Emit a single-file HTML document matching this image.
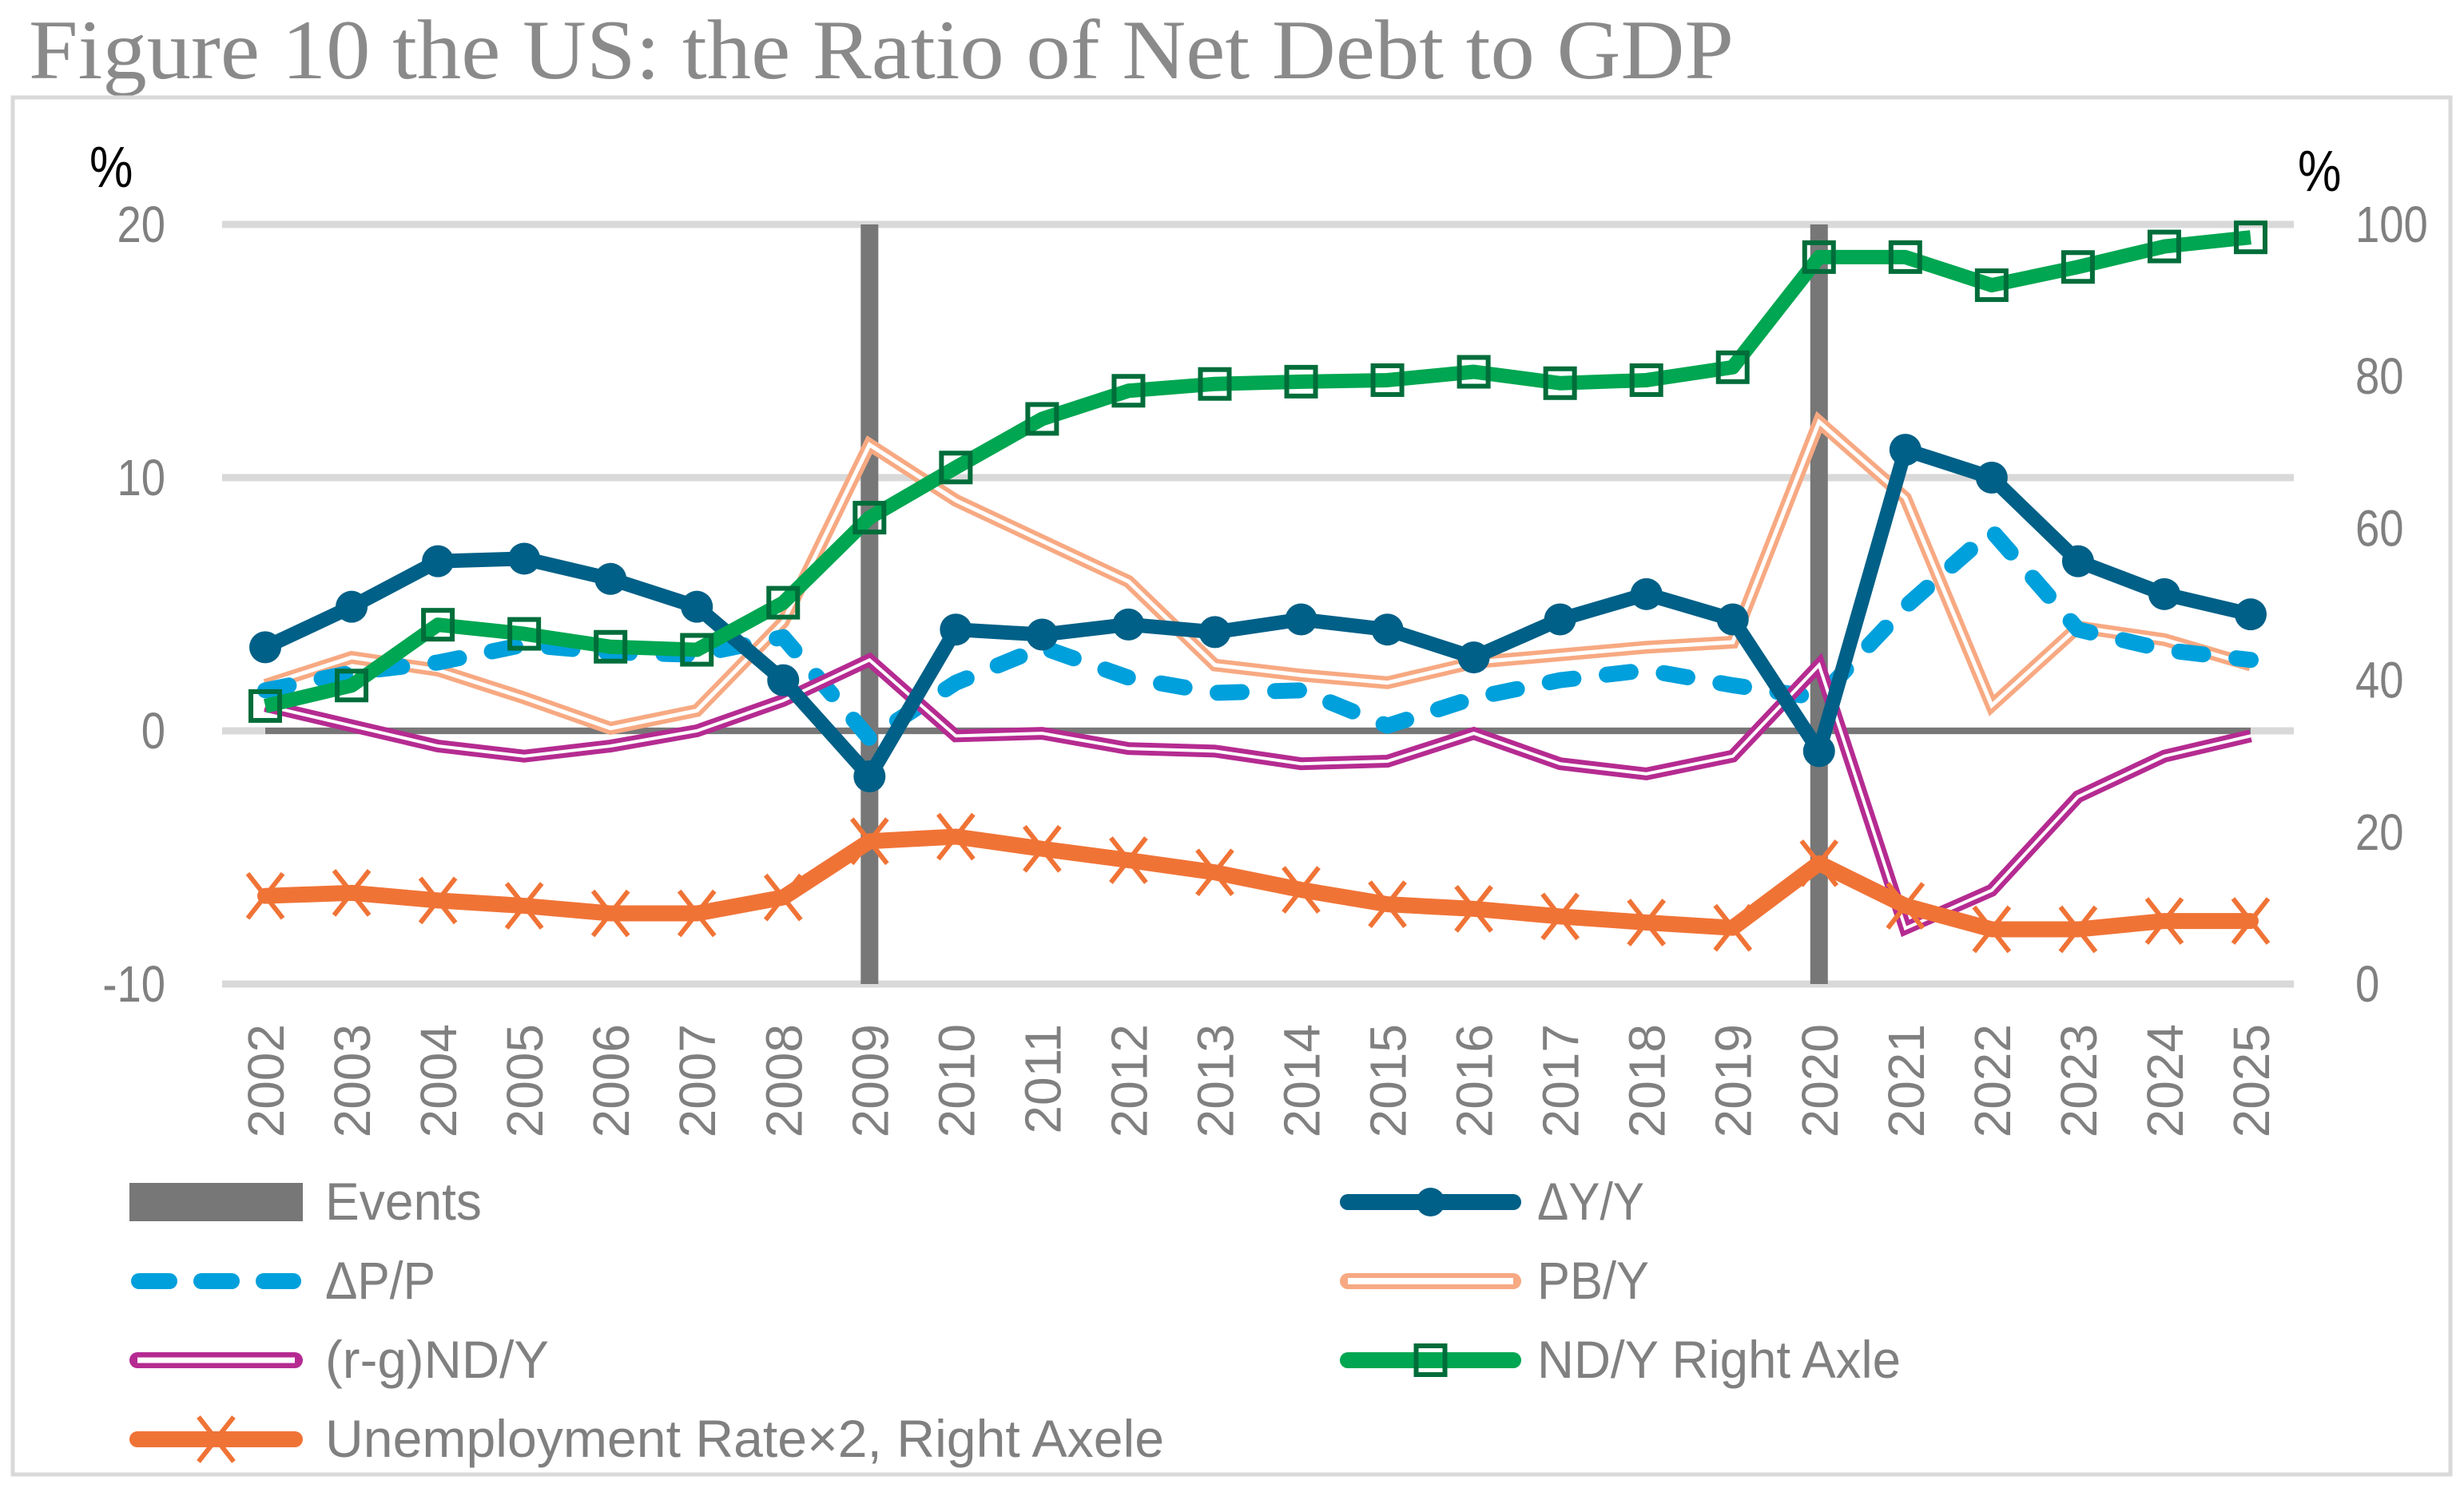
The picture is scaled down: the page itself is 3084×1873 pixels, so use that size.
<!DOCTYPE html>
<html><head><meta charset="utf-8"><style>
html,body{margin:0;padding:0;background:#fff;}
svg{display:block;}
text{font-family:"Liberation Sans",sans-serif;}
</style></head><body>
<svg id="chart" width="3084" height="1873" viewBox="0 0 3084 1873" xmlns="http://www.w3.org/2000/svg">
<rect x="0" y="0" width="3084" height="1873" fill="#fff"/>
<text x="36" y="98" style="font-family:'Liberation Serif',serif" font-size="106" fill="#8a8a8a" textLength="2134" lengthAdjust="spacingAndGlyphs">Figure 10 the US: the Ratio of Net Debt to GDP</text>
<rect x="16" y="122" width="3051" height="1724" fill="none" stroke="#d9d9d9" stroke-width="5"/>
<g id="grid"></g>
<g id="events"></g>
<g id="series"></g>
<g id="axes"></g>
<g id="legend"></g>
</svg>
<script>
const years = ["2002","2003","2004","2005","2006","2007","2008","2009","2010","2011","2012","2013","2014","2015","2016","2017","2018","2019","2020","2021","2022","2023","2024","2025"];
const eventYears = ["2009","2020"];
const dYY = [3.3,4.9,6.7,6.8,6.0,4.9,2.0,-1.8,4.0,3.8,4.2,3.9,4.4,4.0,2.9,4.4,5.4,4.4,-0.8,11.1,10.0,6.7,5.4,4.6];
const dPP = [1.6,2.3,2.7,3.4,3.1,3.0,3.7,-0.3,1.9,3.3,2.1,1.5,1.6,0.2,1.3,2.0,2.4,1.8,1.3,4.9,7.9,4.0,3.2,2.8];
const pbY = [1.8,2.9,2.4,1.3,0.1,0.8,4.3,11.3,9.1,7.5,5.9,2.6,2.2,1.9,2.7,3.0,3.3,3.5,12.2,9.2,1.0,4.1,3.6,2.6];
const rgND = [1.0,0.2,-0.6,-1.0,-0.6,0.0,1.2,2.8,-0.2,-0.1,-0.7,-0.8,-1.3,-1.2,-0.1,-1.3,-1.7,-1.0,2.6,-7.8,-6.3,-2.6,-1.0,-0.2];
const ndY = [36.6,39.3,47.3,46.1,44.4,44.0,50.2,61.4,68.0,74.4,78.1,79.0,79.3,79.5,80.6,79.1,79.5,81.2,95.7,95.7,92.0,94.4,97.1,98.3];
const unemp2 = [11.6,12.0,11.0,10.3,9.3,9.3,11.4,18.8,19.4,17.8,16.3,14.7,12.4,10.5,9.9,8.9,8.1,7.4,15.9,10.3,7.2,7.2,8.3,8.3];
const leftTicks = [-10,0,10,20];
const rightTicks = [0,20,40,60,80,100];

const NS="http://www.w3.org/2000/svg";
const PL=278, PR=2871, PT=281, PB=1232;
const bw=(PR-PL)/years.length;
function xOf(i){return PL+bw*(i+0.5);}
function yL(v){return PB-(v-(-10))/30*(PB-PT);}
function yR(v){return PB-v/100*(PB-PT);}
function mk(tag,attrs,parent){const e=document.createElementNS(NS,tag);for(const k in attrs)e.setAttribute(k,attrs[k]);parent.appendChild(e);return e;}
const grid=document.getElementById('grid'),events=document.getElementById('events'),series=document.getElementById('series'),axes=document.getElementById('axes'),legend=document.getElementById('legend');

leftTicks.forEach(t=>{
  const l=mk('line',{x1:PL,x2:PR,y1:yL(t),y2:yL(t),stroke:'#d9d9d9','stroke-width':9},grid);
  
  
  const tx=mk('text',{x:207,y:yL(t)+22,'text-anchor':'end','font-size':64,fill:'#808080',transform:`translate(207 0) scale(0.85 1) translate(-207 0)`},axes);
  tx.textContent=t;
  
  
});
rightTicks.forEach(t=>{
  const tx=mk('text',{x:2948,y:yR(t)+22,'font-size':64,fill:'#808080',transform:`translate(2948 0) scale(0.85 1) translate(-2948 0)`},axes);
  tx.textContent=t;
  
  
});
years.forEach((y,i)=>{
  const x=xOf(i);
  const tx=mk('text',{x:0,y:0,'font-size':64,fill:'#808080','text-anchor':'end',transform:`translate(${x+23} 1282) rotate(-90)`},axes);
  tx.textContent=y;
  
  
});
let p1=mk('text',{x:112,y:234,'font-size':72,fill:'#000',transform:'translate(112 0) scale(0.85 1) translate(-112 0)'},axes);p1.textContent='%';


let p2=mk('text',{x:2876,y:239,'font-size':72,fill:'#000',transform:'translate(2876 0) scale(0.85 1) translate(-2876 0)'},axes);p2.textContent='%';



eventYears.forEach(ey=>{
  const i=years.indexOf(ey);
  const r=mk('rect',{x:xOf(i)-11,y:PT,width:22,height:PB-PT,fill:'#777777'},events);
  
  
});
const zl=mk('line',{x1:xOf(0),x2:xOf(years.length-1),y1:yL(0),y2:yL(0),stroke:'#777777','stroke-width':8},events);



function pts(arr,f){return arr.map((v,i)=>xOf(i)+','+f(v)).join(' ');}
function line(arr,f,attrs,name){
  const p=mk('polyline',Object.assign({points:pts(arr,f),fill:'none'},attrs),series);
  
  
  return p;
}
line(pbY,yL,{stroke:'#f7a982','stroke-width':16,'stroke-linejoin':'miter'},'pb-y-line');
line(pbY,yL,{stroke:'#fff','stroke-width':5,'stroke-linejoin':'miter'},'pb-y-line-inner');
line(dPP,yL,{stroke:'#00a0dc','stroke-width':20,'stroke-dasharray':'30 42','stroke-linecap':'round','stroke-linejoin':'round'},'dp-p-line');
line(rgND,yL,{stroke:'#b52b91','stroke-width':16,'stroke-linejoin':'miter'},'rg-nd-y-line');
line(rgND,yL,{stroke:'#fff','stroke-width':4,'stroke-linejoin':'miter'},'rg-nd-y-line-inner');
line(unemp2,yR,{stroke:'#f07336','stroke-width':20,'stroke-linejoin':'round','stroke-linecap':'round'},'unemployment-line');
unemp2.forEach((v,i)=>{
  const x=xOf(i),y=yR(v);
  const g=mk('path',{d:`M${x-22},${y-28} L${x+22},${y+28} M${x+22},${y-28} L${x-22},${y+28}`,stroke:'#f07336','stroke-width':6,fill:'none'},series);
  
  
});
line(dYY,yL,{stroke:'#006087','stroke-width':18,'stroke-linejoin':'round'},'dy-y-line');
dYY.forEach((v,i)=>{
  const c=mk('circle',{cx:xOf(i),cy:yL(v),r:20,fill:'#006087'},series);
  
  
});
line(ndY,yR,{stroke:'#00a651','stroke-width':18,'stroke-linejoin':'round'},'nd-y-line');
ndY.forEach((v,i)=>{
  const r=mk('rect',{x:xOf(i)-18,y:yR(v)-18,width:36,height:36,fill:'none',stroke:'#006d3a','stroke-width':6},series);
  
  
});

function ltext(x,y,s,w,name){
  const t=mk('text',{x:x,y:y+22,'font-size':66,fill:'#808080',textLength:w,lengthAdjust:'spacingAndGlyphs'},legend);
  t.textContent=s;
  
  
}
const L1=162,L2=379,R1=1677,R2=1904;
const rows=[1505,1604,1703,1802];
let e;
e=mk('rect',{x:L1,y:rows[0]-24,width:L2-L1,height:48,fill:'#777777'},legend);


ltext(407,rows[0],'Events',196,'legend-events-label');
e=mk('line',{x1:R1+10,x2:R2-10,y1:rows[0],y2:rows[0],stroke:'#006087','stroke-width':20,'stroke-linecap':'round'},legend);


e=mk('circle',{cx:(R1+R2)/2,cy:rows[0],r:18,fill:'#006087'},legend);


ltext(1924,rows[0],'ΔY/Y',134,'legend-dy-y-label');

e=mk('line',{x1:L1+12,x2:L2-12,y1:rows[1],y2:rows[1],stroke:'#00a0dc','stroke-width':20,'stroke-dasharray':'38 40','stroke-linecap':'round'},legend);


ltext(407,rows[1],'ΔP/P',138,'legend-dp-p-label');
e=mk('line',{x1:R1+10,x2:R2-10,y1:rows[1],y2:rows[1],stroke:'#f7a982','stroke-width':20,'stroke-linecap':'round'},legend);


e=mk('line',{x1:R1+10,x2:R2-10,y1:rows[1],y2:rows[1],stroke:'#fff','stroke-width':8},legend);


ltext(1924,rows[1],'PB/Y',140,'legend-pb-y-label');

e=mk('line',{x1:L1+10,x2:L2-10,y1:rows[2],y2:rows[2],stroke:'#b52b91','stroke-width':20,'stroke-linecap':'round'},legend);


e=mk('line',{x1:L1+10,x2:L2-10,y1:rows[2],y2:rows[2],stroke:'#fff','stroke-width':7},legend);


ltext(407,rows[2],'(r-g)ND/Y',280,'legend-rg-nd-y-label');
e=mk('line',{x1:R1+10,x2:R2-10,y1:rows[2],y2:rows[2],stroke:'#00a651','stroke-width':20,'stroke-linecap':'round'},legend);


e=mk('rect',{x:(R1+R2)/2-18,y:rows[2]-18,width:36,height:36,fill:'none',stroke:'#006d3a','stroke-width':6},legend);


ltext(1924,rows[2],'ND/Y Right Axle',455,'legend-nd-y-label');

e=mk('line',{x1:L1+10,x2:L2-10,y1:rows[3],y2:rows[3],stroke:'#f07336','stroke-width':20,'stroke-linecap':'round'},legend);


e=mk('path',{d:`M${(L1+L2)/2-22},${rows[3]-28} L${(L1+L2)/2+22},${rows[3]+28} M${(L1+L2)/2+22},${rows[3]-28} L${(L1+L2)/2-22},${rows[3]+28}`,stroke:'#f07336','stroke-width':6},legend);


ltext(407,rows[3],'Unemployment Rate×2, Right Axele',1050,'legend-unemployment-label');
</script>
</body></html>
